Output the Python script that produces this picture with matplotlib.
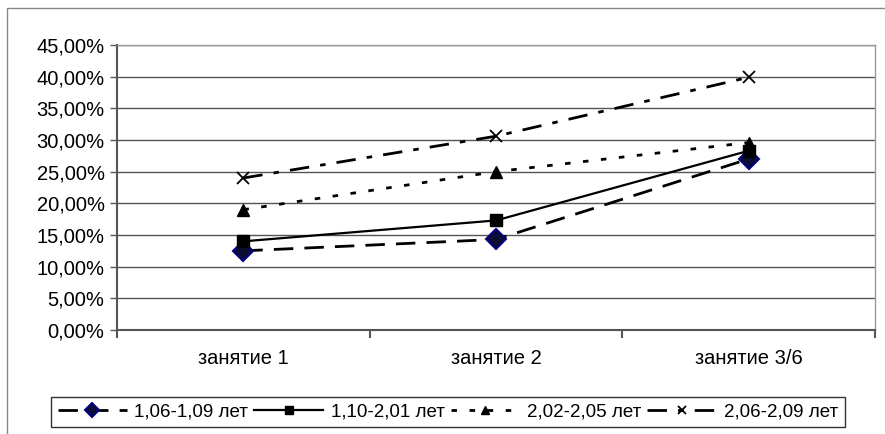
import numpy as np
import matplotlib.pyplot as plt
from matplotlib.patches import Rectangle
from matplotlib.ticker import FuncFormatter

plt.rcParams['font.family'] = ['Liberation Sans', 'DejaVu Sans']

# Данные
categories = ["занятие 1", "занятие 2", "занятие 3/6"]
labels = ["1,06-1,09 лет", "1,10-2,01 лет", "2,02-2,05 лет", "2,06-2,09 лет"]
s1 = [12.5, 14.3, 27.0]
s2 = [14.0, 17.3, 28.3]
s3 = [19.0, 25.0, 29.6]
s4 = [24.0, 30.6, 39.9]
yticks = [0, 5, 10, 15, 20, 25, 30, 35, 40, 45]

fig = plt.figure(figsize=(8.85, 4.34), dpi=100)
ax = fig.add_axes([117/885, 104/434, 758/885, 285/434])

x = np.arange(len(categories))

ax.plot(x, s1, color='black', lw=2, dashes=(7, 4), marker='D', ms=10,
        markerfacecolor='#0c0c35', markeredgecolor='#000080', mew=1.5,
        label=labels[0], zorder=3)
ax.plot(x, s2, color='black', lw=1.6, linestyle='-', marker='s', ms=8.5,
        markerfacecolor='black', markeredgecolor='black',
        label=labels[1], zorder=3)
ax.plot(x, s3, color='black', lw=2, dashes=(2, 4.5), marker='^', ms=8,
        markerfacecolor='black', markeredgecolor='black',
        label=labels[2], zorder=3)
ax.plot(x, s4, color='black', lw=2, dashes=(7, 4, 2, 4), marker='x', ms=8,
        markeredgecolor='black', mew=1.3,
        label=labels[3], zorder=3)

ax.set_xlim(-0.5, 2.5)
ax.set_ylim(0, 45)
ax.set_yticks(yticks)
ax.yaxis.set_major_formatter(FuncFormatter(lambda v, p: f"{v:.2f}".replace('.', ',') + "%"))
ax.tick_params(axis='y', length=5, width=1, color='#555555', labelsize=14.5, pad=4)

# категории: подписи в центре, деления на границах
ax.set_xticks(x)
ax.set_xticklabels(categories, fontsize=14.5)
ax.tick_params(axis='x', length=0, pad=13.5)
ax.set_xticks([-0.5, 0.5, 1.5, 2.5], minor=True)
ax.tick_params(axis='x', which='minor', length=6, width=1.5, color='#555555')

ax.grid(axis='y', color='#555555', lw=1)
ax.set_axisbelow(True)
for side in ['top', 'right']:
    ax.spines[side].set_color('#999999')
    ax.spines[side].set_linewidth(1)
for side in ['left', 'bottom']:
    ax.spines[side].set_color('#555555')
    ax.spines[side].set_linewidth(1.5)

leg = fig.legend(loc='center', bbox_to_anchor=(448/885, 1 - 412/434), ncol=4,
                 fontsize=13.5, frameon=True, fancybox=False, edgecolor='black',
                 handlelength=3.7, handletextpad=0.4, columnspacing=0.3,
                 borderpad=0.35, markerscale=0.7)
leg.get_frame().set_linewidth(1)

# рамка диаграммы
fig.patches.append(Rectangle((7/885, -0.1), 1.2, 1 - 8/434 + 0.1,
                             transform=fig.transFigure, fill=False,
                             edgecolor='#888888', lw=1))

fig.savefig('out.png', dpi=100)
